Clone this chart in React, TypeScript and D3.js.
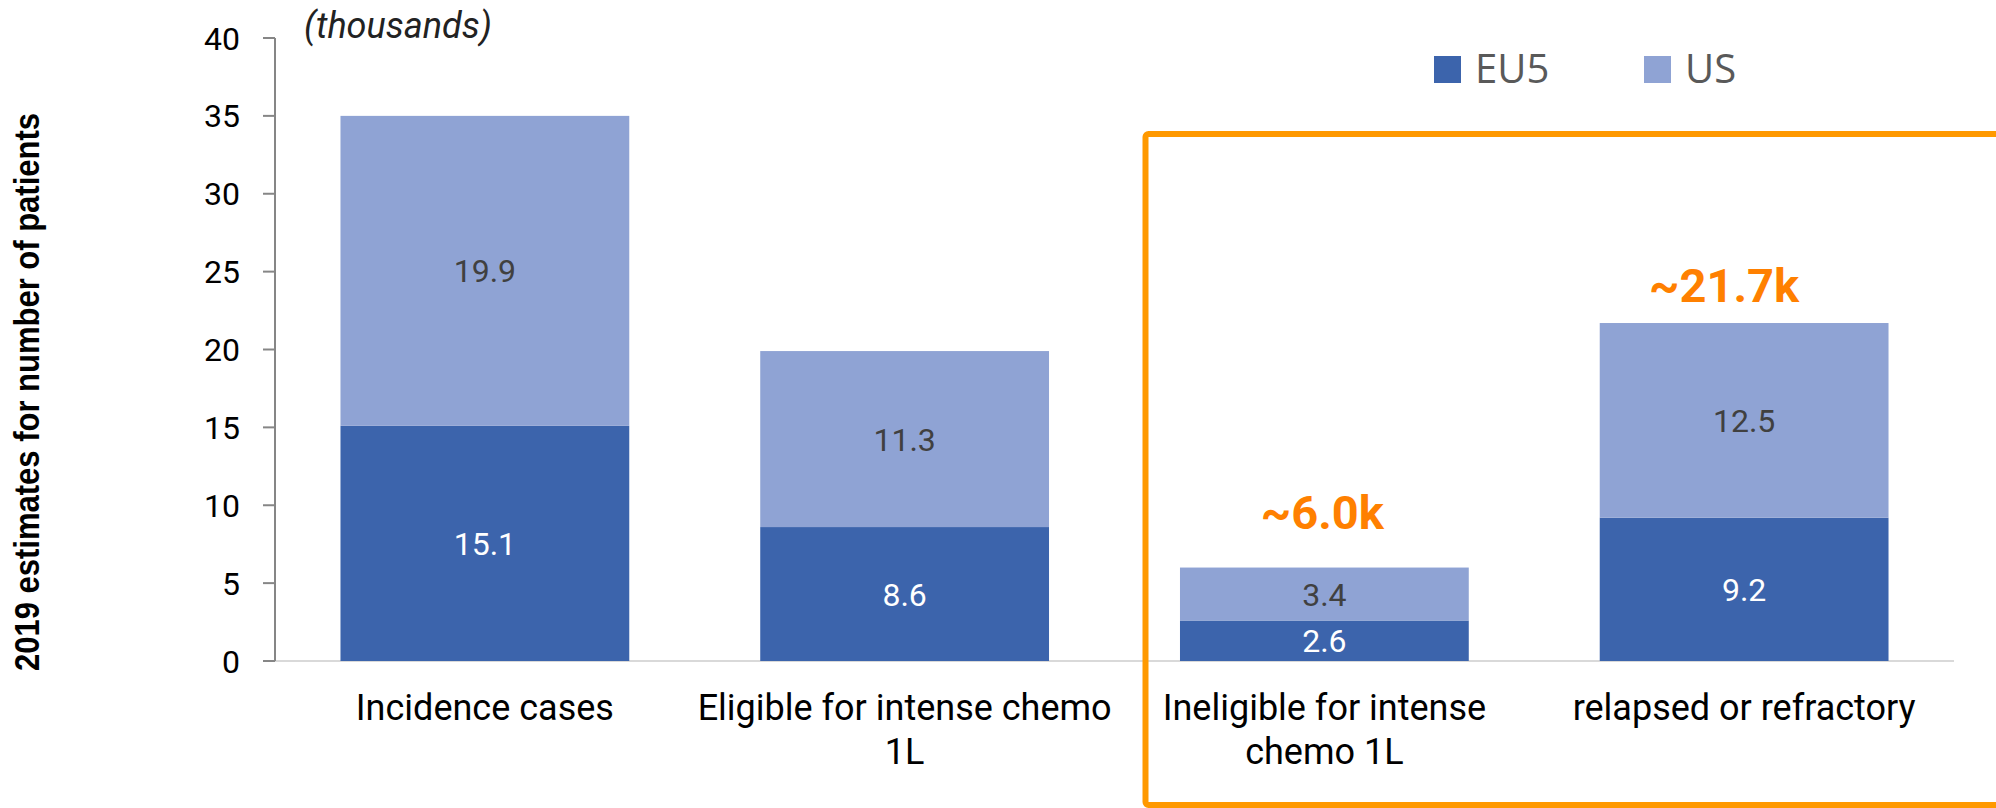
import React from "react";
import * as d3 from "d3";

const categories = [
  "Incidence cases",
  "Eligible for intense chemo 1L",
  "Ineligible for intense chemo 1L",
  "relapsed or refractory",
];
const categoryLines = [
  ["Incidence cases"],
  ["Eligible for intense chemo", "1L"],
  ["Ineligible for intense", "chemo 1L"],
  ["relapsed or refractory"],
];
const eu5 = [15.1, 8.6, 2.6, 9.2];
const us = [19.9, 11.3, 3.4, 12.5];
const totalLabels = ["", "", "~6.0k", "~21.7k"];
const yTicks = [0, 5, 10, 15, 20, 25, 30, 35, 40];
const seriesNames = ["EU5", "US"];
const seriesColors = ["#3C64AC", "#8FA3D4"];
const valueColors = ["#FFFFFF", "#404040"];

const width = 1996;
const height = 808;
const margin = { top: 38, right: 42, bottom: 147, left: 275 };

const App: React.FC = () => {
  const rows = categories.map((c, i) => ({ cat: c, EU5: eu5[i], US: us[i] }));
  const stacked = d3.stack<any>().keys(seriesNames)(rows);

  const x = d3
    .scaleBand()
    .domain(categories)
    .range([margin.left, width - margin.right])
    .paddingInner(0.312)
    .paddingOuter(0.156);

  const y = d3
    .scaleLinear()
    .domain([0, 40])
    .range([height - margin.bottom, margin.top]);

  const y0 = y(0);
  // offsets of the orange callouts above the bar tops
  const calloutOffset = [0, 0, 39, 21];
  const calloutShift = [0, 0, -2, -20];

  return (
    <svg
      width={width}
      height={height}
      style={{ position: "absolute", left: 0, top: 0, background: "#fff" }}
      fontFamily="Roboto, sans-serif"
    >
      {/* y axis title */}
      <text
        transform={`translate(39, ${392}) rotate(-90)`}
        textAnchor="middle"
        fontFamily="'Liberation Sans', Arial, sans-serif"
        fontWeight="bold"
        fontSize={35}
        textLength={558}
        lengthAdjust="spacingAndGlyphs"
        fill="#000"
      >
        2019 estimates for number of patients
      </text>

      <text x={304} y={38} fontStyle="italic" fontSize={36} fill="#222">
        (thousands)
      </text>

      {/* baseline */}
      <line
        x1={margin.left}
        x2={width - margin.right}
        y1={y0}
        y2={y0}
        stroke="#D9D9D9"
        strokeWidth={2}
      />

      {/* bars */}
      {stacked.map((s, si) =>
        s.map((d, i) => (
          <g key={`${si}-${i}`}>
            <rect
              x={x(categories[i])}
              y={y(d[1])}
              width={x.bandwidth()}
              height={y(d[0]) - y(d[1])}
              fill={seriesColors[si]}
            />
            <text
              x={(x(categories[i]) as number) + x.bandwidth() / 2}
              y={(y(d[0]) + y(d[1])) / 2}
              dy="0.36em"
              textAnchor="middle"
              fontSize={32}
              fill={valueColors[si]}
            >
              {(d[1] - d[0]).toFixed(1)}
            </text>
          </g>
        ))
      )}

      {/* y axis */}
      <line x1={margin.left} x2={margin.left} y1={y(40)} y2={y0} stroke="#868686" strokeWidth={2} />
      {yTicks.map((t) => (
        <g key={t}>
          <line x1={margin.left - 12} x2={margin.left} y1={y(t)} y2={y(t)} stroke="#868686" strokeWidth={2} />
          <text
            x={margin.left - 35}
            y={y(t)}
            dy="0.36em"
            textAnchor="end"
            fontSize={32}
            fill="#000"
          >
            {t}
          </text>
        </g>
      ))}

      {/* category labels */}
      {categoryLines.map((lines, i) => (
        <text
          key={i}
          x={(x(categories[i]) as number) + x.bandwidth() / 2}
          y={y0 + 59}
          textAnchor="middle"
          fontSize={36}
          fill="#000"
        >
          {lines.map((l, j) => (
            <tspan key={j} x={(x(categories[i]) as number) + x.bandwidth() / 2} dy={j === 0 ? 0 : 44}>
              {l}
            </tspan>
          ))}
        </text>
      ))}

      {/* totals */}
      {totalLabels.map((t, i) =>
        t ? (
          <text
            key={i}
            x={(x(categories[i]) as number) + x.bandwidth() / 2 + calloutShift[i]}
            y={y(eu5[i] + us[i]) - calloutOffset[i]}
            textAnchor="middle"
            fontSize={47}
            fontWeight="bold"
            fill="#FF8000"
          >
            {t}
          </text>
        ) : null
      )}

      {/* highlight box */}
      <rect
        x={1145.5}
        y={134}
        width={900}
        height={671}
        rx={3}
        fill="none"
        stroke="#FF9900"
        strokeWidth={6}
      />

      {/* legend */}
      {seriesNames.map((n, i) => (
        <g key={n} transform={`translate(${1434 + i * 210}, 56)`}>
          <rect width={27} height={27} fill={seriesColors[i]} />
          <text
            x={41}
            y={27}
            fontFamily="'Open Sans', sans-serif"
            fontSize={40}
            fill="#595959"
          >
            {n}
          </text>
        </g>
      ))}
    </svg>
  );
};

export default App;
